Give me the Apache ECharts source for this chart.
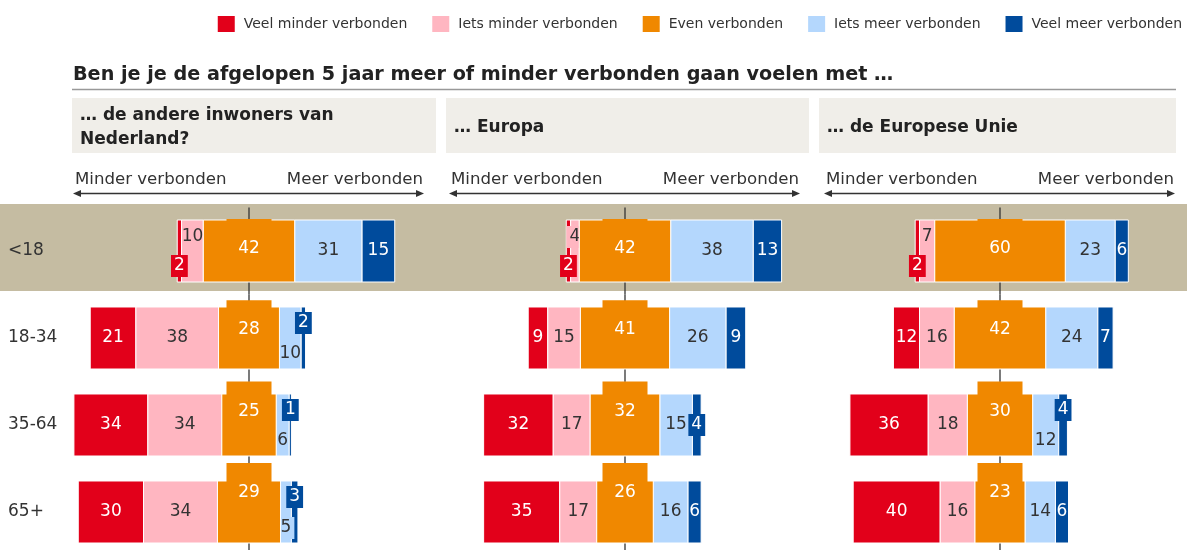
<!DOCTYPE html>
<html>
<head>
<meta charset="utf-8">
<script src="https://cdn.jsdelivr.net/npm/echarts@6/dist/echarts.min.js"></script>
</head>
<body style="margin: 0">
<div id="container" style="width: 1187px; height: 550px"></div>
<script type="text/javascript">
var categories = ['<18', '18-34', '35-64', '65+'];
var answers = ['Veel minder verbonden', 'Iets minder verbonden', 'Even verbonden', 'Iets meer verbonden', 'Veel meer verbonden'];
var panelTitles = ['… de andere inwoners van\nNederland?', '… Europa', '… de Europese Unie'];

// per age group: veel minder, iets minder, even, iets meer, veel meer
var inwoners = [[2, 10, 42, 31, 15], [21, 38, 28, 10, 2], [34, 34, 25, 6, 1], [30, 34, 29, 5, 3]];
var europa = [[2, 4, 42, 38, 13], [9, 15, 41, 26, 9], [32, 17, 32, 15, 4], [35, 17, 26, 16, 6]];
var europeseUnie = [[2, 7, 60, 23, 6], [12, 16, 42, 24, 7], [36, 18, 30, 12, 4], [40, 16, 23, 14, 6]];
var panels = [inwoners, europa, europeseUnie];

var colors = ['#e2001a', '#ffb6c1', '#f08800', '#b4d7fd', '#004b9c'];
var labelColors = ['#fff', '#333', '#fff', '#333', '#fff'];
var font = '"DejaVu Sans"';

// layout
var centers = [249, 625, 1000];
var half = 174;
var headerLeft = [72, 446, 819];
var headerWidth = [364, 363, 357];

var dom = document.getElementById('container');
var myChart = echarts.init(dom);

function segmentRender(k) {
    return function (params, api) {
        var row = api.value(0);
        var v = [api.value(1), api.value(2), api.value(3), api.value(4), api.value(5)];
        var start = -(v[0] + v[1] + v[2] / 2);
        for (var i = 0; i < k; i++) start += v[i];
        var a = api.coord([start, row]);
        var b = api.coord([start + v[k], row]);
        var band = api.size([0, 1])[1];
        var h = band * 0.713;
        var top = a[1] - h / 2;
        var mid = (a[0] + b[0]) / 2;
        var children = [{
            type: 'rect',
            shape: {x: a[0], y: top, width: b[0] - a[0], height: h},
            style: {fill: colors[k], stroke: '#fff', lineWidth: 1}
        }];
        var txt = {
            text: String(v[k]), fill: labelColors[k], font: '17px ' + font,
            align: 'center', verticalAlign: 'middle', x: mid, y: a[1]
        };
        if (k === 2) {
            // label block on the centre line
            var tabTop = top - (1 + row * 5.7);
            children.push({
                type: 'rect',
                shape: {x: mid - 22.5, y: tabTop, width: 45, height: 57},
                style: {fill: colors[2]}
            });
            txt.y = tabTop + 29.5;
        } else {
            var left = k < 2;
            var outer = left ? v[0] : v[4];
            var inner = left ? v[1] : v[3];
            var isOuter = k === 0 || k === 4;
            if (outer <= 4 && inner <= 12) {
                if (isOuter) txt.y += left ? 15 : -15;
                else txt.y += left ? -14 : 16;
            }
            if (v[k] <= 5) {
                txt.backgroundColor = colors[k];
                txt.padding = [3, 3, 2, 3];
            }
        }
        children.push({type: 'text', style: txt, z2: 10});
        return {type: 'group', children: children};
    };
}

function lineRender(params, api) {
    var row = api.value(0);
    var p = api.coord([0, row]);
    var band = api.size([0, 1])[1];
    return {
        type: 'line',
        shape: {x1: p[0], y1: p[1] - band / 2, x2: p[0], y2: p[1] + band / 2},
        style: {stroke: '#333', lineWidth: 1.3}
    };
}

var grids = [], xAxes = [], yAxes = [], series = [];
var graphics = [
    {type: 'rect', z: -1, shape: {x: 0, y: 204, width: 1187, height: 87}, style: {fill: '#c5bca2'}},
    {type: 'text', style: {x: 73, y: 75, text: 'Ben je je de afgelopen 5 jaar meer of minder verbonden gaan voelen met …',
        font: 'bold 19.2px ' + font, fill: '#222', verticalAlign: 'middle'}},
    {type: 'line', shape: {x1: 72, y1: 89.5, x2: 1176, y2: 89.5}, style: {stroke: '#999', lineWidth: 1.5}}
];

panels.forEach(function (rows, p) {
    var c = centers[p];
    grids.push({left: c - half, width: half * 2, top: 207.5, height: 348, outerBoundsMode: 'none', containLabel: false});
    xAxes.push({gridIndex: p, type: 'value', min: -80, max: 80, show: false});
    yAxes.push({
        gridIndex: p, type: 'category', data: categories, inverse: true,
        axisLine: {show: false}, axisTick: {show: false}, splitLine: {show: false},
        axisLabel: {show: p === 0, align: 'left', margin: 67, fontSize: 17, fontFamily: font, color: '#333'}
    });
    var data = rows.map(function (r, i) { return [i].concat(r); });
    series.push({
        type: 'custom', xAxisIndex: p, yAxisIndex: p, z: 2, silent: true,
        encode: {x: 1, y: 0}, renderItem: lineRender, data: data
    });
    answers.forEach(function (name, k) {
        series.push({
            name: name, type: 'custom', xAxisIndex: p, yAxisIndex: p, z: 3 + (k === 2 ? 1 : 0),
            itemStyle: {color: colors[k]}, encode: {x: 1, y: 0},
            renderItem: segmentRender(k), data: data
        });
    });

    graphics.push({type: 'rect', shape: {x: headerLeft[p], y: 98, width: headerWidth[p], height: 55}, style: {fill: '#f0eee9'}});
    graphics.push({type: 'text', style: {x: headerLeft[p] + 8, y: 128, text: panelTitles[p], font: 'bold 17px ' + font,
        fill: '#222', verticalAlign: 'middle', lineHeight: 24}});
    graphics.push({type: 'text', style: {x: c - 174, y: 180, text: 'Minder verbonden', font: '16.6px ' + font,
        fill: '#333', verticalAlign: 'middle'}});
    graphics.push({type: 'text', style: {x: c + 174, y: 180, text: 'Meer verbonden', font: '16.6px ' + font,
        fill: '#333', verticalAlign: 'middle', align: 'right'}});
    graphics.push({type: 'line', shape: {x1: c - 170, y1: 193.5, x2: c + 169, y2: 193.5}, style: {stroke: '#333', lineWidth: 1.3}});
    graphics.push({type: 'polygon', shape: {points: [[c - 176, 193.5], [c - 168, 190], [c - 168, 197]]}, style: {fill: '#333'}});
    graphics.push({type: 'polygon', shape: {points: [[c + 175, 193.5], [c + 167, 190], [c + 167, 197]]}, style: {fill: '#333'}});
});

var option = {
    animation: false,
    backgroundColor: '#fff',
    legend: {
        data: answers, right: 0, top: 11, itemWidth: 17, itemHeight: 16, itemGap: 25, icon: 'rect',
        selectedMode: false,
        textStyle: {fontFamily: font, fontSize: 14, color: '#333', padding: [0, 0, 0, 4]}
    },
    grid: grids,
    xAxis: xAxes,
    yAxis: yAxes,
    graphic: graphics,
    series: series
};

myChart.setOption(option);
</script>
</body>
</html>
